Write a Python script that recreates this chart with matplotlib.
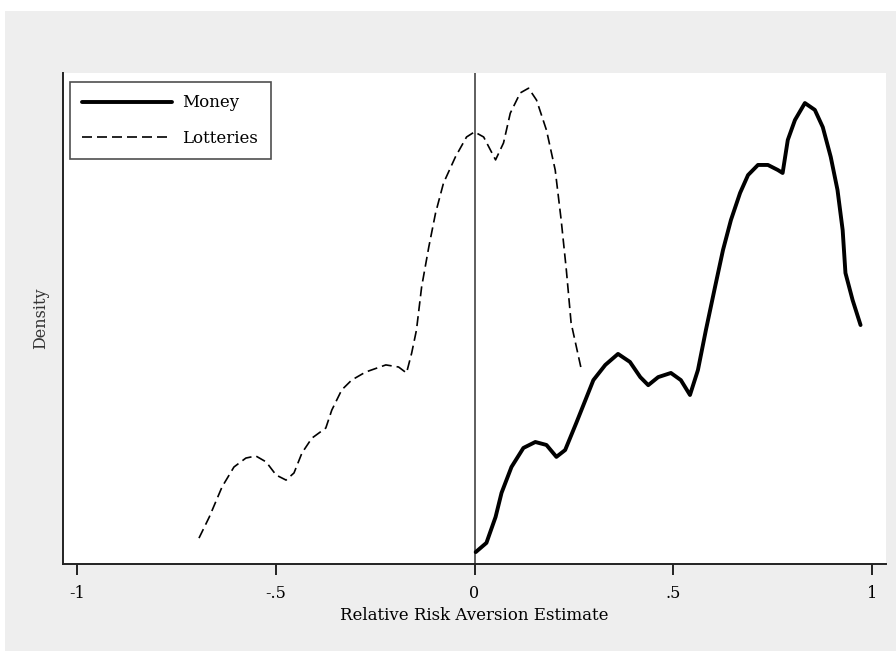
import numpy as np
import matplotlib
matplotlib.use('Agg')
import matplotlib.pyplot as plt
from matplotlib.patches import Rectangle

#---------------------FONT------------------------
matplotlib.rc('font', family=['DejaVu Serif'], size=11)

#---------------------DATA------------------------
# kernel density of the relative risk aversion estimates
lot_x = [-0.693, -0.667, -0.635, -0.605, -0.575, -0.550, -0.524, -0.499, -0.474,
         -0.454, -0.434, -0.409, -0.374, -0.359, -0.334, -0.309, -0.274, -0.223,
         -0.191, -0.171, -0.158, -0.146, -0.133, -0.115, -0.098, -0.078, -0.048,
         -0.020, 0.000, 0.023, 0.053, 0.073, 0.090, 0.115, 0.136, 0.156, 0.181,
         0.203, 0.218, 0.231, 0.243, 0.269]
lot_y = [0.087, 0.158, 0.259, 0.326, 0.356, 0.363, 0.343, 0.299, 0.282,
         0.306, 0.373, 0.423, 0.457, 0.517, 0.585, 0.618, 0.645, 0.669,
         0.662, 0.642, 0.709, 0.786, 0.931, 1.065, 1.179, 1.280, 1.368,
         1.435, 1.452, 1.435, 1.358, 1.415, 1.515, 1.583, 1.599, 1.559, 1.458,
         1.324, 1.156, 0.988, 0.810, 0.652]

mon_x = [0.003, 0.030, 0.053, 0.068, 0.093, 0.123, 0.153, 0.181, 0.206, 0.228,
         0.256, 0.279, 0.299, 0.329, 0.361, 0.391, 0.417, 0.437, 0.462, 0.494,
         0.519, 0.542, 0.562, 0.582, 0.605, 0.625, 0.645, 0.668, 0.688, 0.713,
         0.738, 0.763, 0.775, 0.788, 0.806, 0.831, 0.856, 0.876, 0.896, 0.913,
         0.926, 0.933, 0.951, 0.971]
mon_y = [0.040, 0.071, 0.158, 0.239, 0.326, 0.390, 0.410, 0.400, 0.360, 0.383,
         0.474, 0.551, 0.618, 0.669, 0.706, 0.679, 0.628, 0.601, 0.628, 0.642,
         0.618, 0.568, 0.652, 0.786, 0.931, 1.055, 1.156, 1.247, 1.307, 1.341,
         1.341, 1.324, 1.314, 1.425, 1.492, 1.549, 1.526, 1.468, 1.368, 1.257,
         1.122, 0.978, 0.887, 0.803]

xticks = [-1, -0.5, 0, 0.5, 1]
xticklabels = ['-1', '-.5', '0', '.5', '1']

#------------Figure Layout--------------
fig = plt.figure(figsize=(8.96, 6.51), dpi=100, facecolor='white')
fig.patches.append(Rectangle((5/896., 0), 1, (651-11)/651., transform=fig.transFigure,
                             facecolor='#eeeeee', edgecolor='none', zorder=-10))
ax = fig.add_axes([63/896., 87/651., 823/896., 491/651.])
ax.set_facecolor('white')

#PLOT
ax.axvline(0, color='#333333', linewidth=1.1, zorder=1)
ax.plot(mon_x, mon_y, color='black', linewidth=2.8, solid_capstyle='round',
        solid_joinstyle='round', label='Money', zorder=3)
ax.plot(lot_x, lot_y, color='black', linewidth=1.2, linestyle=(0, (6, 3)),
        label='Lotteries', zorder=3)

ax.set_xlim(-1.035, 1.035)
ax.set_ylim(0, 1.65)
ax.set_xticks(xticks)
ax.set_xticklabels(xticklabels)
ax.set_yticks([])

for s in ['top', 'right']:
    ax.spines[s].set_visible(False)
for s in ['left', 'bottom']:
    ax.spines[s].set_linewidth(1.4)
    ax.spines[s].set_color('#222222')
ax.tick_params(axis='x', direction='out', length=8, width=1.4, color='#222222',
               pad=7, labelsize=11.5)

ax.set_xlabel('Relative Risk Aversion Estimate', fontsize=12, labelpad=4)
ax.set_ylabel('Density', fontsize=11.5, labelpad=10, color='#333333')

#-------------------------GRAPHICS
leg = ax.legend(loc='upper left', fontsize=12, frameon=True, fancybox=False,
                handlelength=5.4, handletextpad=0.6, borderpad=0.75,
                labelspacing=1.1, borderaxespad=0,
                bbox_to_anchor=(0.0085, 0.982))
leg.get_frame().set_edgecolor('#222222')
leg.get_frame().set_linewidth(1.2)

#SAVING
fig.savefig('out.png', dpi=100, facecolor=fig.get_facecolor())
